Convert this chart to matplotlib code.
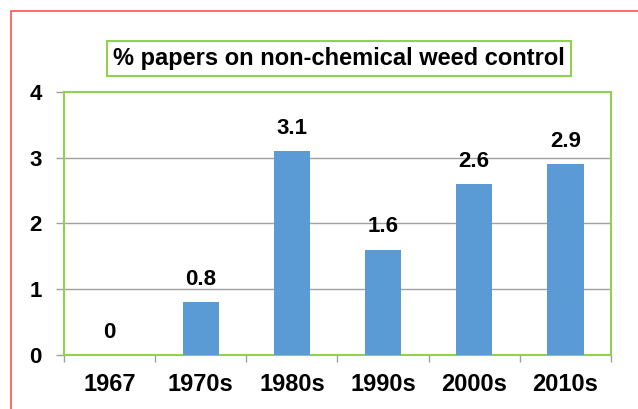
import matplotlib
matplotlib.use('Agg')
from matplotlib import pyplot as plt
from matplotlib import patches
import numpy as np

categories = ['1967', '1970s', '1980s', '1990s', '2000s', '2010s']
percent_papers = [0, 0.8, 3.1, 1.6, 2.6, 2.9]
value_labels = ['0', '0.8', '3.1', '1.6', '2.6', '2.9']
title = '% papers on non-chemical weed control'

green = '#92d050'
blue = '#5b9bd5'
grey = '#a0a0a0'
red = '#ff5050'

plt.rcParams['font.family'] = ['Liberation Sans', 'DejaVu Sans']
plt.rcParams['font.weight'] = 'bold'

fig = plt.figure(figsize=(6.38, 4.09), dpi=100)
ax = fig.add_axes([64 / 638, 1 - 355 / 409, (611 - 64) / 638, (355 - 92) / 409])

x = np.arange(len(categories))
ax.bar(x, percent_papers, width=0.4, color=blue, zorder=3)
for xi, val, lab in zip(x, percent_papers, value_labels):
    ax.annotate(lab, (xi, val), xytext=(0, 9), textcoords='offset points',
                ha='center', va='bottom', fontsize=16, fontweight='bold')

ax.set_xlim(-0.5, len(categories) - 0.5)
ax.set_ylim(0, 4)
ax.set_yticks([0, 1, 2, 3, 4])
ax.set_yticklabels(['0', '1', '2', '3', '4'], fontsize=16, fontweight='bold')
ax.set_xticks(x)
ax.set_xticklabels(categories, fontsize=17, fontweight='bold')
ax.set_xticks(np.arange(-0.5, len(categories)), minor=True)
ax.tick_params(axis='x', which='major', length=0, pad=13)
ax.tick_params(axis='x', which='minor', length=5, color=grey, width=1)
ax.tick_params(axis='y', length=6, color=grey, width=1, pad=10)

for yv in [1, 2, 3]:
    ax.axhline(yv, color=grey, linewidth=1, zorder=1)
for sp in ax.spines.values():
    sp.set_color(green)
    sp.set_linewidth(1.5)

fig.text(339 / 638, 1 - 58.5 / 409, title, ha='center', va='center',
         fontsize=17, fontweight='bold',
         bbox=dict(boxstyle='square,pad=0.25', facecolor='white', edgecolor=green, linewidth=1.5))

# outer red frame, only left and top edges fall inside the picture
fig.patches.append(patches.Rectangle((11 / 638, -0.5), 2, 0.5 + 1 - 11 / 409,
                                     transform=fig.transFigure, fill=False,
                                     edgecolor=red, linewidth=1.2))

fig.savefig('out.png', dpi=100)
